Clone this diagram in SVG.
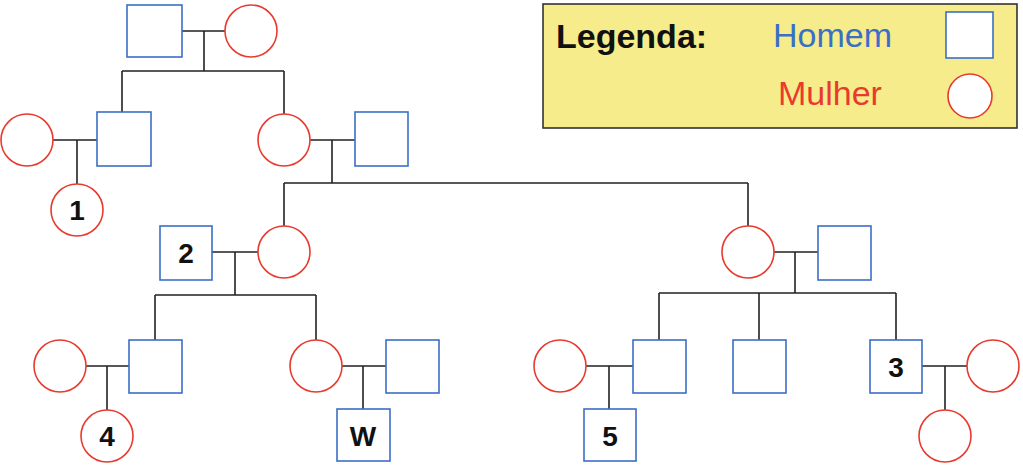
<svg xmlns="http://www.w3.org/2000/svg" width="1023" height="467" viewBox="0 0 1023 467">
<style>
.m{fill:#fff;stroke:#3b6fc6;stroke-width:1.6}
.f{fill:#fff;stroke:#e83a2e;stroke-width:1.6}
.c{fill:none;stroke:#222;stroke-width:1.6}
.t{font-family:"Liberation Sans",Arial,sans-serif;font-weight:bold;font-size:28px;fill:#111;text-anchor:middle}
.l{font-family:"Liberation Sans",Arial,sans-serif;font-size:34px}
</style>
<rect width="1023" height="467" fill="#fff"/>
<g id="connectors" class="c">
<path d="M182 31H225M204 31V71M122 71H284M122 71V112M284 71V114"/>
<path d="M53 140H97M77 140V184"/>
<path d="M310 140H355M332 140V183M284 183H748M284 183V226M748 183V226"/>
<path d="M212 252H258M235 252V295M155 295H316M155 295V340M316 295V340"/>
<path d="M774 252H818M795 252V293M659 293H896M659 293V340M759 293V340M896 293V340"/>
<path d="M86 366H129M107 366V410"/>
<path d="M342 366H386M363 366V410"/>
<path d="M586 366H633M609 366V410"/>
<path d="M922 366H967M945 366V410"/>
</g>
<g id="g1m"><rect class="m" x="127" y="5" width="55" height="52"/></g>
<g id="g1f"><circle class="f" cx="251" cy="31" r="26"/></g>
<g id="g2f1"><circle class="f" cx="27" cy="140" r="26"/></g>
<g id="g2m1"><rect class="m" x="97" y="112" width="54" height="54"/></g>
<g id="g2f2"><circle class="f" cx="284" cy="140" r="26"/></g>
<g id="g2m2"><rect class="m" x="355" y="112" width="53" height="54"/></g>
<g id="n1"><circle class="f" cx="77" cy="210" r="26"/><text class="t" x="77" y="220">1</text></g>
<g id="n2"><rect class="m" x="160" y="226" width="52" height="54"/><text class="t" x="186" y="263">2</text></g>
<g id="g3f1"><circle class="f" cx="284" cy="252" r="26"/></g>
<g id="g3f2"><circle class="f" cx="748" cy="252" r="26"/></g>
<g id="g3m2"><rect class="m" x="818" y="226" width="53" height="54"/></g>
<g id="g4f1"><circle class="f" cx="60" cy="366" r="26"/></g>
<g id="g4m1"><rect class="m" x="129" y="340" width="53" height="53"/></g>
<g id="g4f2"><circle class="f" cx="316" cy="366" r="26"/></g>
<g id="g4m2"><rect class="m" x="386" y="340" width="53" height="53"/></g>
<g id="g4f3"><circle class="f" cx="560" cy="366" r="26"/></g>
<g id="g4m3"><rect class="m" x="633" y="340" width="53" height="53"/></g>
<g id="g4m4"><rect class="m" x="733" y="340" width="53" height="53"/></g>
<g id="n3"><rect class="m" x="870" y="340" width="52" height="53"/><text class="t" x="896" y="377">3</text></g>
<g id="g4f4"><circle class="f" cx="993" cy="366" r="26"/></g>
<g id="n4"><circle class="f" cx="107" cy="436" r="26"/><text class="t" x="107" y="446">4</text></g>
<g id="nW"><rect class="m" x="337" y="409" width="53" height="52"/><text class="t" x="363" y="446">W</text></g>
<g id="n5"><rect class="m" x="584" y="409" width="52" height="52"/><text class="t" x="610" y="446">5</text></g>
<g id="n6"><circle class="f" cx="945" cy="436" r="26"/></g>
<g id="legend">
<rect x="543" y="4" width="474" height="124" fill="#f6ec8c" stroke="#333" stroke-width="1.6"/>
<text class="l" x="556" y="48" font-weight="bold" fill="#111">Legenda:</text>
<text class="l" x="773" y="47" fill="#3b6fc6">Homem</text>
<rect class="m" x="946" y="12" width="47" height="46"/>
<text class="l" x="778" y="105" fill="#e83a2e">Mulher</text>
<circle class="f" cx="970" cy="96" r="22"/>
</g>
</svg>
